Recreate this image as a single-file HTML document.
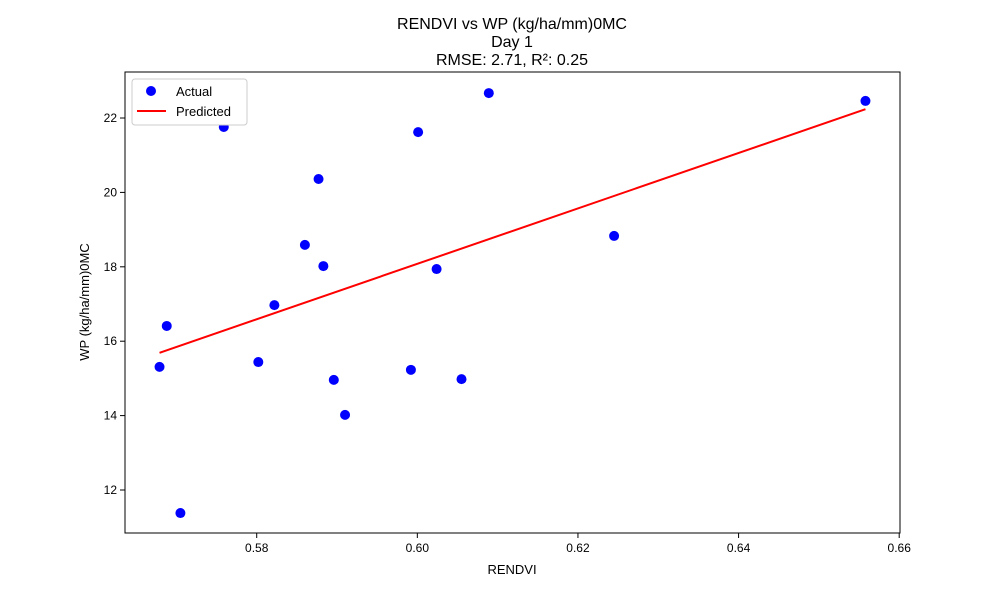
<!DOCTYPE html>
<html><head><meta charset="utf-8"><style>
body{margin:0;background:#fff;}
svg text{font-family:"Liberation Sans","DejaVu Sans",sans-serif;}
</style></head><body>
<svg id="chart" width="1000" height="600" xmlns="http://www.w3.org/2000/svg">
<rect width="1000" height="600" fill="#fff"/>
<text x="512" y="29" text-anchor="middle" font-size="16">RENDVI vs WP (kg/ha/mm)0MC</text>
<text x="512" y="47" text-anchor="middle" font-size="16">Day 1</text>
<text x="512" y="65" text-anchor="middle" font-size="16">RMSE: 2.71, R²: 0.25</text>
<g id="plot"></g>
<text x="512" y="574" text-anchor="middle" font-size="13">RENDVI</text>
<text transform="translate(89,302) rotate(-90)" text-anchor="middle" font-size="13">WP (kg/ha/mm)0MC</text>
<g>
<rect x="132" y="79" width="115" height="46" fill="#fff" stroke="#ccc" rx="3"/>
<circle cx="151" cy="91" r="5" fill="#0000ff"/>
<text x="176" y="96" font-size="13">Actual</text>
<line x1="137" y1="111" x2="166" y2="111" stroke="#ff0000" stroke-width="2"/>
<text x="176" y="116" font-size="13">Predicted</text>
</g>
</svg>
<script>
const xVals=[0.5679,0.5688,0.5705,0.5759,0.5802,0.5822,0.5860,0.5877,0.5883,0.5896,0.5910,0.5992,0.6001,0.6024,0.6055,0.6089,0.6245,0.6558];
const yVals=[15.31,16.41,11.38,21.76,15.44,16.97,18.59,20.36,18.02,14.96,14.02,15.23,21.62,17.94,14.98,22.67,18.83,22.46];
const xTicks=[0.58,0.60,0.62,0.64,0.66];
const yTicks=[12,14,16,18,20,22];
const fitSlope=74.5, fitIntercept=-26.62;

const L=125,R=900,T=72,B=533;
const xMin=0.5636,xMax=0.6601,yMin=10.844,yMax=23.237;
const sx=v=>L+(v-xMin)/(xMax-xMin)*(R-L);
const sy=v=>B-(v-yMin)/(yMax-yMin)*(B-T);
const NS="http://www.w3.org/2000/svg";
const g=document.getElementById('plot');
function mk(tag,attrs){const e=document.createElementNS(NS,tag);for(const k in attrs)e.setAttribute(k,attrs[k]);g.appendChild(e);return e;}
xTicks.forEach(t=>{
  const x=sx(t);
  const l=mk('line',{x1:x,x2:x,y1:B,y2:B+5,stroke:'#000'});
  
  
  const tx=mk('text',{x:x,y:B+19,'text-anchor':'middle','font-size':12});
  tx.textContent=t.toFixed(2);
  
  
});
yTicks.forEach(t=>{
  const y=sy(t);
  const l=mk('line',{x1:L-5,x2:L,y1:y,y2:y,stroke:'#000'});
  
  
  const tx=mk('text',{x:L-8,y:y+4,'text-anchor':'end','font-size':12});
  tx.textContent=t;
  
  
});
xVals.forEach((v,i)=>{
  const c=mk('circle',{cx:sx(v),cy:sy(yVals[i]),r:5,fill:'#0000ff'});
  
  
});
const x0=Math.min(...xVals),x1=Math.max(...xVals);
const ln=mk('line',{x1:sx(x0),y1:sy(fitSlope*x0+fitIntercept),x2:sx(x1),y2:sy(fitSlope*x1+fitIntercept),stroke:'#ff0000','stroke-width':2});


const fr=mk('rect',{x:L,y:T,width:R-L,height:B-T,fill:'none',stroke:'#000','stroke-width':1});


</script>
</body></html>
